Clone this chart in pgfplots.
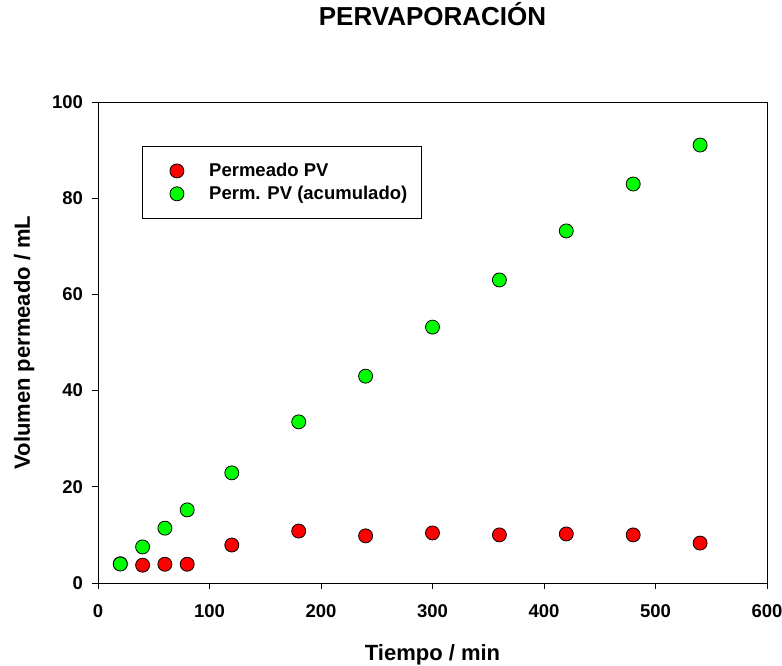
\documentclass[border=0pt]{standalone}
\usepackage{fontspec}
\setmainfont{Liberation Sans}
\usepackage{pgfplots}
\pgfplotsset{compat=1.18}
\begin{document}
\begin{tikzpicture}
\path[use as bounding box] (-98pt,-82pt) rectangle (684pt,583pt);
\begin{axis}[
  at={(0pt,0pt)}, anchor=south west,
  scale only axis, width=669pt, height=481pt,
  xmin=0, xmax=600, ymin=0, ymax=100,
  xtick={0,100,...,600}, ytick={0,20,...,100},
  tick align=outside, xtick pos=bottom, ytick pos=left,
  major tick length=6pt,
  axis line style={line width=0.9pt}, tick style={line width=0.9pt, black},
  /pgf/number format/assume math mode=true,
  ticklabel style={font=\fontsize{18.5}{21}\selectfont\bfseries},
  xticklabel style={yshift=-12pt},
  yticklabel style={xshift=-5.5pt},
  xlabel={Tiempo / min}, ylabel={Volumen permeado / mL},
  label style={font=\fontsize{22}{25}\selectfont\bfseries},
  xlabel style={at={(axis description cs:0.5,0)}, anchor=base, yshift=-77pt},
  ylabel style={at={(axis description cs:0,0.5)}, anchor=base, yshift=68pt},
  title={PERVAPORACIÓN},
  title style={font=\fontsize{26}{30}\selectfont\bfseries, at={(axis description cs:0.5,1)}, anchor=base, yshift=70pt},
  legend style={at={(axis description cs:0.0658,0.9085)}, anchor=north west,
    font=\fontsize{18.5}{21}\selectfont\bfseries, draw=black, line width=0.9pt,
    inner xsep=12pt, inner ysep=15pt, row sep=4pt, cells={anchor=west}},
  legend cell align=left,
  legend image code/.code={\path (-22pt,0pt) (0pt,0pt); \draw[#1, line width=0.8pt] plot coordinates {(0pt,0pt)};},
]
\addplot[only marks, mark=*, mark size=7pt, mark options={fill=red, draw=black, line width=0.8pt}] coordinates {
(20,4.0) (40,3.7) (60,3.9) (80,3.9) (120,7.9) (180,10.8) (240,9.8) (300,10.4) (360,10.0) (420,10.2) (480,10.0) (540,8.3)
};
\addlegendentry{\hspace{23.3pt}Permeado PV}
\addplot[only marks, mark=*, mark size=7pt, mark options={fill=green, draw=black, line width=0.8pt}] coordinates {
(20,3.95) (40,7.5) (60,11.4) (80,15.2) (120,22.9) (180,33.5) (240,43.0) (300,53.2) (360,63.0) (420,73.2) (480,82.95) (540,91.05)
};
\addlegendentry{\hspace{23.3pt}Perm. PV (acumulado)}
\end{axis}
\end{tikzpicture}
\end{document}
